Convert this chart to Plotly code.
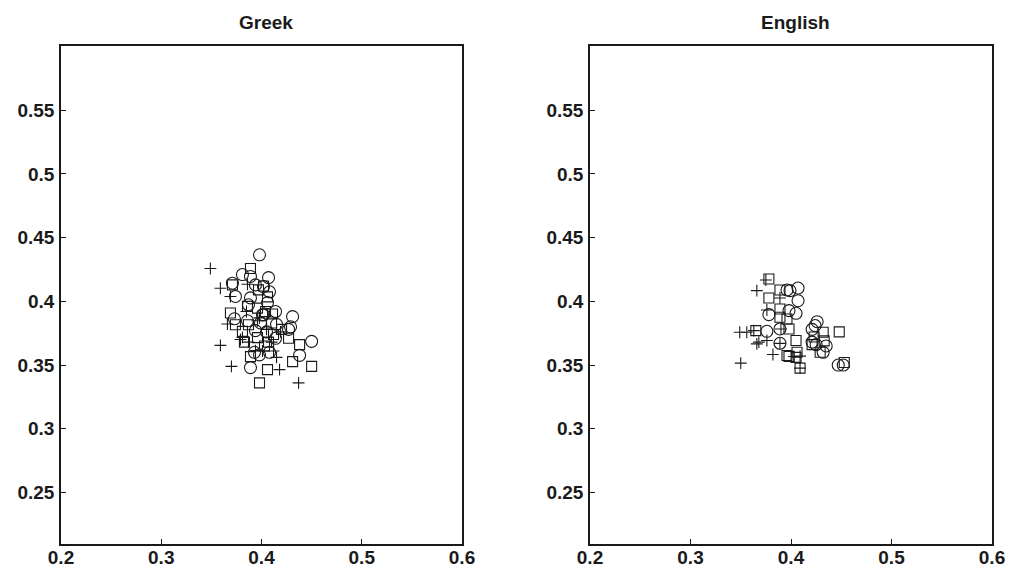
import plotly.graph_objects as go

# ---------------- data ----------------
greek_circle_x = [0.398, 0.381, 0.389, 0.371, 0.394, 0.402, 0.407, 0.408, 0.374, 0.389, 0.387, 0.406,
                  0.414, 0.431, 0.402, 0.373, 0.386, 0.399, 0.429, 0.427, 0.450, 0.438, 0.389, 0.394,
                  0.405, 0.415, 0.398, 0.393, 0.414, 0.408, 0.401]
greek_circle_y = [0.4365, 0.421, 0.4195, 0.4142, 0.4129, 0.4116, 0.4186, 0.4075, 0.4038, 0.4027, 0.3973, 0.399,
                  0.392, 0.388, 0.3894, 0.3863, 0.3847, 0.383, 0.380, 0.378, 0.3686, 0.3576, 0.348, 0.377,
                  0.376, 0.382, 0.358, 0.360, 0.371, 0.360, 0.3895]

greek_square_x = [0.389, 0.371, 0.397, 0.402, 0.406, 0.386, 0.396, 0.404, 0.369, 0.374, 0.387, 0.381,
                  0.396, 0.389, 0.398, 0.427, 0.438, 0.431, 0.450, 0.406, 0.410, 0.412, 0.403, 0.407,
                  0.420, 0.383, 0.411]
greek_square_y = [0.4257, 0.4129, 0.409, 0.412, 0.4035, 0.396, 0.3947, 0.392, 0.3908, 0.3816, 0.3816, 0.3764,
                  0.3715, 0.3566, 0.336, 0.371, 0.366, 0.3527, 0.349, 0.3464, 0.383, 0.374, 0.365, 0.368,
                  0.378, 0.368, 0.390]

greek_plus_x = [0.349, 0.359, 0.386, 0.369, 0.366, 0.396, 0.359, 0.370, 0.394, 0.379, 0.381, 0.418,
                0.437, 0.415, 0.405, 0.410, 0.401, 0.419, 0.387, 0.398, 0.412, 0.385]
greek_plus_y = [0.4257, 0.4103, 0.4134, 0.4038, 0.3822, 0.3847, 0.3654, 0.349, 0.3613, 0.370, 0.3717, 0.3464,
                0.336, 0.356, 0.378, 0.368, 0.361, 0.376, 0.368, 0.387, 0.361, 0.392]

english_circle_x = [0.396, 0.399, 0.407, 0.407, 0.378, 0.398, 0.405, 0.389, 0.376, 0.389, 0.424, 0.426,
                    0.421, 0.421, 0.425, 0.432, 0.447, 0.452, 0.435]
english_circle_y = [0.4089, 0.4084, 0.4104, 0.4005, 0.3896, 0.3927, 0.3906, 0.3783, 0.3765, 0.3671, 0.381, 0.384,
                    0.378, 0.368, 0.366, 0.360, 0.350, 0.350, 0.365]

english_square_x = [0.378, 0.389, 0.378, 0.389, 0.389, 0.396, 0.398, 0.365, 0.405, 0.396, 0.398, 0.406,
                    0.409, 0.432, 0.421, 0.429, 0.448, 0.453, 0.423, 0.433, 0.405]
english_square_y = [0.4175, 0.4089, 0.4026, 0.394, 0.3875, 0.3861, 0.3783, 0.377, 0.3693, 0.3575, 0.3567, 0.360,
                    0.3476, 0.3757, 0.366, 0.360, 0.376, 0.352, 0.372, 0.369, 0.356]

english_plus_x = [0.375, 0.366, 0.389, 0.376, 0.390, 0.349, 0.356, 0.366, 0.368, 0.376, 0.389, 0.382,
                  0.403, 0.409, 0.350, 0.409, 0.363]
english_plus_y = [0.4167, 0.4084, 0.4026, 0.3932, 0.3783, 0.3757, 0.3757, 0.3666, 0.368, 0.3693, 0.367, 0.3583,
                  0.3567, 0.357, 0.3515, 0.3476, 0.377]

panel_titles = ["Greek", "English"]
x_ticks = [0.2, 0.3, 0.4, 0.5, 0.6]
x_tick_labels = ["0.2", "0.3", "0.4", "0.5", "0.6"]
y_ticks = [0.25, 0.3, 0.35, 0.4, 0.45, 0.5, 0.55]
y_tick_labels = ["0.25", "0.3", "0.35", "0.4", "0.45", "0.5", "0.55"]
x_range = [0.2, 0.6]
y_range = [0.21, 0.6]

# ---------------- figure ----------------
ink = "#1a1a1a"
fig = go.Figure()

def add_panel(xa, ya, cx, cy, sx, sy, px, py):
    common = dict(mode="markers", xaxis=xa, yaxis=ya, showlegend=False, hoverinfo="skip")
    fig.add_trace(go.Scatter(x=px, y=py, marker=dict(symbol="cross-thin-open", size=8.5, color=ink,
                                                     line=dict(color=ink, width=1.1)), **common))
    fig.add_trace(go.Scatter(x=sx, y=sy, marker=dict(symbol="square-open", size=10, color=ink,
                                                     line=dict(color=ink, width=1.1)), **common))
    fig.add_trace(go.Scatter(x=cx, y=cy, marker=dict(symbol="circle-open", size=12, color=ink,
                                                     line=dict(color=ink, width=1.1)), **common))

add_panel("x", "y", greek_circle_x, greek_circle_y, greek_square_x, greek_square_y,
          greek_plus_x, greek_plus_y)
add_panel("x2", "y2", english_circle_x, english_circle_y, english_square_x, english_square_y,
          english_plus_x, english_plus_y)

tickfont = dict(family="Liberation Sans, Arial, sans-serif", size=19, color=ink, weight="bold")
axis_common = dict(showgrid=False, zeroline=False, showline=True, linecolor=ink, linewidth=1.6,
                   mirror=True, ticks="inside", ticklen=5, tickcolor=ink, tickwidth=1,
                   tickfont=tickfont, automargin=False)

y_dom = [1 - 543.5 / 574, 1 - 46.4 / 574]
fig.update_layout(
    width=1009, height=574,
    margin=dict(l=0, r=0, t=0, b=0),
    paper_bgcolor="white", plot_bgcolor="white",
    xaxis=dict(domain=[61 / 1009, 462 / 1009], range=x_range, tickvals=x_ticks,
               ticktext=x_tick_labels, anchor="y", ticklabelstandoff=-4, **axis_common),
    yaxis=dict(domain=y_dom, range=y_range, tickvals=y_ticks, ticktext=y_tick_labels,
               anchor="x", ticklabelstandoff=1, **axis_common),
    xaxis2=dict(domain=[590 / 1009, 992 / 1009], range=x_range, tickvals=x_ticks,
                ticktext=x_tick_labels, anchor="y2", ticklabelstandoff=-4, **axis_common),
    yaxis2=dict(domain=y_dom, range=y_range, tickvals=y_ticks, ticktext=y_tick_labels,
                anchor="x2", ticklabelstandoff=1, **axis_common),
)

title_font = dict(family="Liberation Sans, Arial, sans-serif", size=19, color=ink, weight="bold")
for i, xref in enumerate(["x domain", "x2 domain"]):
    fig.add_annotation(text=panel_titles[i], xref=xref, yref="paper",
                       x=0.5, y=y_dom[1], yanchor="bottom", xanchor="center",
                       xshift=4, yshift=11, showarrow=False, font=title_font)

fig.write_html("out.html", config={"displayModeBar": False},
               post_script="document.body.style.margin='0';")
